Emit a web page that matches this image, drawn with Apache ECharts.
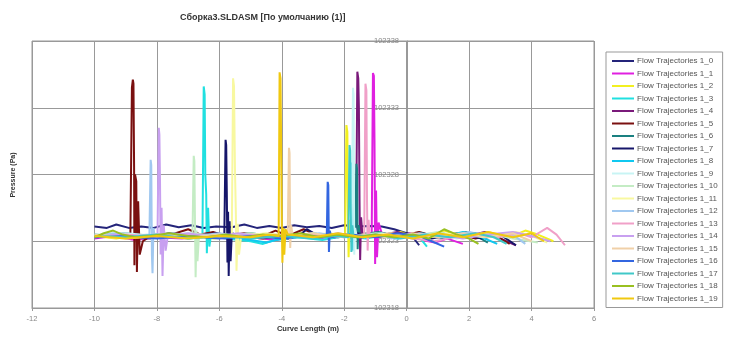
<!DOCTYPE html>
<html>
<head>
<meta charset="utf-8">
<style>
  html, body { margin: 0; padding: 0; background: #fff; }
  #chart { width: 739px; height: 337px; }
</style>
<script src="https://cdn.jsdelivr.net/npm/echarts@6/dist/echarts.min.js"></script>
</head>
<body>
<div id="chart"></div>
<script>
// series names, colors (Excel default palette) and [curve length, pressure] points
const seriesNames = [
  'Flow Trajectories 1_0', 'Flow Trajectories 1_1', 'Flow Trajectories 1_2', 'Flow Trajectories 1_3',
  'Flow Trajectories 1_4', 'Flow Trajectories 1_5', 'Flow Trajectories 1_6', 'Flow Trajectories 1_7',
  'Flow Trajectories 1_8', 'Flow Trajectories 1_9', 'Flow Trajectories 1_10', 'Flow Trajectories 1_11',
  'Flow Trajectories 1_12', 'Flow Trajectories 1_13', 'Flow Trajectories 1_14', 'Flow Trajectories 1_15',
  'Flow Trajectories 1_16', 'Flow Trajectories 1_17', 'Flow Trajectories 1_18', 'Flow Trajectories 1_19'
];
const seriesColors = [
  '#24247a', '#e020e0', '#f2f020', '#20e0e0', '#7a1a7a', '#7a1010', '#1a8080', '#16166a',
  '#10c8f0', '#c8f4f4', '#c4ecc4', '#f8f8a0', '#a0c8f0', '#f0a0c8', '#c8a0f0', '#f0d0a8',
  '#3366e0', '#40c8c8', '#99c020', '#f0c810'
];
const xTicks = [-12, -10, -8, -6, -4, -2, 0, 2, 4, 6];
const yTicks = [102318, 102323, 102328, 102333, 102338];

const traj0 = [[-10,102324.1],[-9.6,102324.0],[-9.3,102324.25],[-8.9,102324.0],[-8.5,102324.1],[-8.1,102324.0],[-7.7,102324.25],[-7.3,102324.05],[-6.9,102324.2],[-6.5,102324.0],[-6.1,102324.1],[-5.6,102324.05],[-5.2,102324.25],[-4.8,102324.0],[-4.4,102324.15],[-4.0,102324.0],[-3.6,102324.2],[-3.2,102324.05],[-2.8,102324.15],[-2.4,102324.0],[-2.0,102324.2],[-1.6,102324.1],[-1.2,102324.15],[-0.8,102324.1],[-0.4,102323.9],[0,102323.6],[0.2,102323.3],[0.4,102322.7]];
const traj1 = [[-10,102323.2],[-9.4,102323.4],[-8.7,102323.1],[-8.0,102323.3],[-7.2,102323.2],[-6.5,102323.4],[-5.8,102323.2],[-5.0,102323.3],[-4.2,102323.1],[-3.5,102323.4],[-2.8,102323.2],[-2.1,102323.5],[-1.5,102323.3],[-1.12,102323.5],[-1.08,102335.6],[-1.05,102335.4],[-1.03,102330.5],[-1.01,102321.3],[-0.98,102326.8],[-0.95,102321.8],[-0.9,102324.4],[-0.8,102323.6],[-0.4,102323.3],[0.1,102323.6],[0.5,102323.1],[0.9,102322.9],[1.3,102323.2],[1.8,102322.8]];
const traj2 = [[-10,102323.4],[-9.3,102323.2],[-8.6,102323.5],[-7.8,102323.3],[-7.0,102323.5],[-6.2,102323.2],[-5.4,102323.4],[-4.6,102323.2],[-3.8,102323.5],[-3.0,102323.3],[-2.3,102323.4],[-1.97,102323.5],[-1.93,102331.7],[-1.9,102331.2],[-1.88,102325],[-1.86,102321.8],[-1.83,102324.6],[-1.78,102323.2],[-1.4,102323.6],[-0.8,102323.3],[-0.2,102323.7],[0.5,102323.2],[1.2,102323.8],[1.9,102323.3],[2.6,102323.7],[3.3,102323.3],[3.8,102323.8],[4.2,102323.5],[4.7,102323.0]];
const traj3 = [[-10,102323.3],[-9.2,102323.5],[-8.4,102323.2],[-7.6,102323.4],[-6.9,102323.3],[-6.54,102323.5],[-6.5,102334.6],[-6.47,102334.0],[-6.45,102328],[-6.42,102326.5],[-6.4,102322.1],[-6.36,102325.5],[-6.32,102322.6],[-6.27,102323.4],[-5.8,102323.2],[-5.0,102323.0],[-4.6,102322.8],[-4.2,102323.1],[-3.5,102323.3],[-2.7,102323.1],[-2.0,102323.4],[-1.3,102323.2],[-0.6,102323.5],[-0.1,102323.3],[0.3,102323.6],[0.65,102322.6]];
const traj4 = [[-10,102323.3],[-9.1,102323.4],[-8.2,102323.2],[-7.3,102323.5],[-6.4,102323.3],[-5.5,102323.4],[-4.6,102323.2],[-3.7,102323.5],[-2.8,102323.3],[-2.0,102323.5],[-1.62,102323.4],[-1.58,102335.7],[-1.55,102335.2],[-1.53,102333],[-1.51,102326],[-1.49,102321.6],[-1.46,102324.8],[-1.42,102323.6],[-1.0,102323.4],[-0.3,102323.7],[0.4,102323.2],[1.1,102323.6],[1.8,102323.3],[2.5,102323.7],[3.0,102323.2],[3.5,102322.7]];
const traj5 = [[-10,102323.3],[-9.5,102323.5],[-9.0,102323.3],[-8.85,102323.4],[-8.8,102334.5],[-8.77,102335.1],[-8.75,102334.8],[-8.73,102328.5],[-8.72,102321.2],[-8.7,102328],[-8.66,102327.5],[-8.64,102320.7],[-8.6,102326],[-8.55,102322],[-8.45,102323.0],[-8.2,102323.4],[-7.8,102323.3],[-7.4,102323.6],[-7.0,102323.9],[-6.6,102323.5],[-6.2,102323.7],[-5.8,102323.4],[-5.2,102323.6],[-4.6,102323.4],[-4.2,102323.8],[-3.8,102323.4],[-3.3,102323.9],[-3.0,102323.6],[-2.5,102323.4],[-2.0,102323.5],[-1.4,102323.3],[-0.8,102323.6],[-0.2,102323.4],[0.4,102323.7],[1.0,102323.3],[1.6,102323.6],[2.2,102323.2],[2.8,102323.5],[3.3,102322.8]];
const traj6 = [[-10,102323.4],[-9.0,102323.6],[-8.0,102323.3],[-7.0,102323.5],[-6.0,102323.3],[-5.0,102323.6],[-4.0,102323.3],[-3.0,102323.5],[-2.2,102323.3],[-1.65,102323.5],[-1.61,102328.8],[-1.59,102328.4],[-1.57,102322.4],[-1.54,102324.2],[-1.5,102323.5],[-0.9,102323.7],[-0.2,102323.3],[0.5,102323.6],[1.2,102323.2],[1.9,102323.7],[2.3,102323.3],[2.6,102322.9]];
const traj7 = [[-10,102323.3],[-9.2,102323.5],[-8.4,102323.3],[-7.6,102323.6],[-6.8,102323.4],[-6.1,102323.6],[-5.84,102323.5],[-5.8,102330.6],[-5.78,102330.2],[-5.76,102326.5],[-5.74,102321.4],[-5.72,102325.2],[-5.7,102320.4],[-5.67,102324.5],[-5.64,102321.5],[-5.6,102323.6],[-5.2,102323.3],[-4.5,102323.5],[-3.8,102323.2],[-3.4,102323.5],[-3.2,102323.9],[-2.9,102323.5],[-2.3,102323.3],[-1.6,102323.6],[-0.8,102323.3],[0,102323.6],[0.8,102323.2],[1.6,102323.6],[2.4,102323.2],[3.0,102323.5],[3.5,102322.7]];
const traj8 = [[-10,102323.5],[-9.0,102323.3],[-8.0,102323.5],[-7.0,102323.2],[-6.0,102323.4],[-5.0,102323.1],[-4.5,102322.9],[-4.0,102323.2],[-3.0,102323.4],[-2.2,102323.3],[-1.79,102323.4],[-1.75,102328.9],[-1.73,102328.4],[-1.71,102322.3],[-1.68,102324],[-1.64,102323.3],[-1.0,102323.5],[-0.3,102323.2],[0.4,102323.5],[1.1,102323.3],[1.8,102323.7],[2.4,102323.3],[2.9,102322.8]];
const traj9 = [[-10,102323.4],[-9.0,102323.6],[-8.0,102323.4],[-7.0,102323.6],[-6.0,102323.4],[-5.0,102323.5],[-4.0,102323.3],[-3.0,102323.6],[-2.2,102323.4],[-1.76,102323.5],[-1.72,102334.5],[-1.7,102334],[-1.68,102322],[-1.65,102324],[-1.6,102323.4],[-0.8,102323.6],[0,102323.3],[0.8,102323.6],[1.6,102323.2],[2.4,102323.6],[3.0,102323.1]];
const traj10 = [[-10,102323.3],[-9.2,102323.5],[-8.4,102323.3],[-7.6,102323.5],[-7.0,102323.4],[-6.86,102323.5],[-6.82,102329.4],[-6.8,102329],[-6.78,102324.5],[-6.76,102320.3],[-6.73,102323.8],[-6.7,102321.5],[-6.65,102323.5],[-6.0,102323.4],[-5.0,102323.6],[-4.0,102323.3],[-3.0,102323.6],[-2.0,102323.3],[-1.0,102323.6],[0,102323.3],[1.0,102323.7],[1.8,102323.3],[2.6,102323.6],[3.4,102323.2],[4.2,102322.9]];
const traj11 = [[-10,102323.4],[-9.0,102323.2],[-8.0,102323.4],[-7.0,102323.3],[-6.0,102323.5],[-5.6,102323.4],[-5.56,102335.2],[-5.53,102334.6],[-5.5,102328.5],[-5.47,102325],[-5.45,102320.8],[-5.41,102324.3],[-5.37,102322.0],[-5.3,102323.4],[-4.5,102323.6],[-3.5,102323.3],[-2.5,102323.6],[-1.5,102323.3],[-0.5,102323.6],[0.5,102323.2],[1.5,102323.6],[2.5,102323.3],[3.5,102323.7],[4.0,102323.4],[4.5,102322.9]];
const traj12 = [[-10,102323.4],[-9.4,102323.6],[-8.8,102323.4],[-8.24,102323.5],[-8.2,102329.1],[-8.18,102328.7],[-8.16,102322],[-8.14,102320.6],[-8.11,102324],[-8.07,102323.4],[-7.5,102323.6],[-6.8,102323.4],[-6.0,102323.6],[-5.2,102323.3],[-4.4,102323.5],[-3.6,102323.3],[-2.8,102323.6],[-2.0,102323.3],[-1.2,102323.5],[-0.4,102323.2],[0.4,102323.6],[1.2,102323.3],[2.0,102323.7],[2.8,102323.3],[3.4,102323.5],[3.8,102322.8]];
const traj13 = [[-10,102323.3],[-9.0,102323.5],[-8.0,102323.3],[-7.0,102323.5],[-6.0,102323.3],[-5.0,102323.5],[-4.0,102323.3],[-3.0,102323.5],[-2.0,102323.3],[-1.36,102323.5],[-1.32,102334.8],[-1.29,102334.3],[-1.27,102326],[-1.25,102322.3],[-1.22,102324.6],[-1.18,102323.3],[-0.6,102323.5],[0.2,102323.2],[0.9,102323.0],[1.5,102323.3],[2.2,102323.6],[2.9,102323.3],[3.6,102323.6],[4.0,102323.3],[4.5,102324.0],[4.8,102323.5],[5.07,102322.7]];
const traj14 = [[-10,102323.3],[-9.3,102323.5],[-8.6,102323.3],[-7.98,102323.5],[-7.94,102331.5],[-7.92,102331],[-7.9,102327.5],[-7.88,102322],[-7.85,102325.5],[-7.82,102320.4],[-7.78,102324.2],[-7.72,102322.3],[-7.65,102323.4],[-7.0,102323.6],[-6.2,102323.3],[-5.4,102323.6],[-4.6,102323.3],[-3.8,102323.5],[-3.0,102323.3],[-2.2,102323.6],[-1.4,102323.3],[-0.6,102323.5],[0.2,102323.2],[1.0,102323.5],[1.8,102323.2],[2.6,102323.5],[3.4,102323.7],[4.0,102323.4],[4.6,102323.0]];
const traj15 = [[-10,102323.5],[-9.0,102323.3],[-8.0,102323.5],[-7.0,102323.3],[-6.0,102323.5],[-5.0,102323.3],[-4.2,102323.5],[-3.81,102323.4],[-3.77,102330],[-3.75,102329.6],[-3.73,102322.5],[-3.7,102324.2],[-3.65,102323.4],[-3.0,102323.6],[-2.2,102323.3],[-1.4,102323.5],[-0.6,102323.3],[0.2,102323.6],[1.0,102323.3],[1.8,102323.6],[2.6,102323.3],[3.4,102323.6],[4.0,102323.0]];
const traj16 = [[-10,102323.3],[-9.0,102323.4],[-8.0,102323.2],[-7.0,102323.4],[-6.0,102323.2],[-5.0,102323.4],[-4.0,102323.2],[-3.2,102323.4],[-2.56,102323.3],[-2.53,102327.45],[-2.51,102327.2],[-2.49,102322.2],[-2.46,102323.8],[-2.42,102323.3],[-1.8,102323.5],[-1.0,102323.3],[-0.3,102323.6],[0.4,102323.4],[0.8,102323.0],[1.2,102322.6]];
const traj17 = [[-10,102323.4],[-9.0,102323.3],[-8.0,102323.5],[-7.0,102323.2],[-6.0,102323.4],[-5.0,102323.2],[-4.0,102323.4],[-3.0,102323.2],[-2.3,102323.4],[-1.87,102323.3],[-1.83,102330.2],[-1.81,102329.8],[-1.79,102325],[-1.77,102322.2],[-1.74,102324.2],[-1.7,102323.3],[-1.0,102323.5],[-0.2,102323.2],[0.6,102323.5],[1.4,102323.3],[2.2,102323.6],[2.8,102323.3],[3.2,102322.8]];
const traj18 = [[-10,102323.3],[-9.7,102323.6],[-9.4,102323.8],[-9.1,102323.5],[-8.7,102323.3],[-8.2,102323.4],[-7.6,102323.6],[-7.0,102323.4],[-6.4,102323.3],[-5.8,102323.5],[-5.2,102323.3],[-4.6,102323.5],[-4.0,102323.4],[-3.4,102323.6],[-2.8,102323.3],[-2.2,102323.5],[-1.6,102323.3],[-1.0,102323.5],[-0.4,102323.3],[0.2,102323.5],[0.7,102323.2],[1.2,102323.9],[1.6,102323.5],[2.0,102323.2],[2.3,102322.8]];
const traj19 = [[-10,102323.4],[-9.0,102323.2],[-8.0,102323.4],[-7.0,102323.2],[-6.0,102323.4],[-5.0,102323.3],[-4.4,102323.5],[-4.1,102323.4],[-4.07,102335.65],[-4.04,102335.2],[-4.02,102330],[-4.0,102324.5],[-3.98,102321.4],[-3.95,102324],[-3.92,102322],[-3.88,102323.9],[-3.8,102323.5],[-3.0,102323.3],[-2.2,102323.6],[-1.4,102323.3],[-0.6,102323.5],[0.2,102323.2],[1.0,102323.6],[1.8,102323.3],[2.6,102323.7],[3.4,102323.3],[4.0,102323.6],[4.4,102323.0]];

const trajectories = [traj0, traj1, traj2, traj3, traj4, traj5, traj6, traj7, traj8, traj9,
  traj10, traj11, traj12, traj13, traj14, traj15, traj16, traj17, traj18, traj19];

var myChart = echarts.init(document.getElementById('chart'));

var font = 'Liberation Sans, Arial, sans-serif';

option = {
    animation: false,
    color: seriesColors,
    graphic: [
        {
            type: 'text',
            left: 180,
            top: 13,
            style: {
                text: 'Сборка3.SLDASM [По умолчанию (1)]',
                font: 'bold 9px ' + font,
                fill: '#333'
            }
        },
        {
            type: 'text',
            x: 13,
            y: 175,
            rotation: Math.PI / 2,
            style: {
                text: 'Pressure (Pa)',
                font: 'bold 7px ' + font,
                fill: '#333',
                align: 'center',
                verticalAlign: 'middle'
            }
        },
        {
            type: 'text',
            x: 308,
            y: 329,
            style: {
                text: 'Curve Length (m)',
                font: 'bold 7.5px ' + font,
                fill: '#333',
                align: 'center',
                verticalAlign: 'middle'
            }
        }
    ],
    legend: {
        orient: 'vertical',
        left: 606,
        top: 52,
        width: 131,
        padding: [4, 5, 4, 6],
        itemGap: 2.5,
        itemWidth: 22,
        itemHeight: 2,
        icon: 'rect',
        borderColor: '#999',
        borderWidth: 1,
        textStyle: {
            fontFamily: font,
            fontSize: 8,
            lineHeight: 10,
            color: '#555',
            padding: [0, 0, 0, -2]
        },
        data: seriesNames
    },
    grid: {
        left: 32,
        right: 145,
        top: 41,
        bottom: 29,
        outerBoundsMode: 'none',
        show: true,
        borderColor: '#999',
        borderWidth: 1
    },
    xAxis: {
        type: 'value',
        min: xTicks[0],
        max: xTicks[xTicks.length - 1],
        interval: 2,
        axisLine: { onZero: false, lineStyle: { color: '#999' } },
        axisTick: { show: true, length: 3, lineStyle: { color: '#999' } },
        axisLabel: { color: '#888', fontSize: 7.5, fontFamily: font, margin: 7 },
        splitLine: { show: true, lineStyle: { color: '#999', width: 1 } }
    },
    yAxis: {
        type: 'value',
        min: yTicks[0],
        max: yTicks[yTicks.length - 1],
        interval: 5,
        // axis sits on x = 0 (12 units of 31.2px from the left edge)
        offset: -375,
        axisLine: { show: true, onZero: false, lineStyle: { color: '#999' } },
        axisTick: { show: true, length: 3, lineStyle: { color: '#999' } },
        axisLabel: {
            color: '#888',
            fontSize: 7.5,
            fontFamily: font,
            margin: 8,
            formatter: function (v) { return String(v); }
        },
        splitLine: { show: true, lineStyle: { color: '#999', width: 1 } }
    },
    series: seriesNames.map(function (name, i) {
        return {
            name: name,
            type: 'line',
            data: trajectories[i],
            showSymbol: false,
            symbol: 'none',
            lineStyle: { width: 2, color: seriesColors[i] },
            itemStyle: { color: seriesColors[i] }
        };
    })
};

myChart.setOption(option);

window.addEventListener('resize', function () {
    myChart.resize();
})
</script>
</body>
</html>
